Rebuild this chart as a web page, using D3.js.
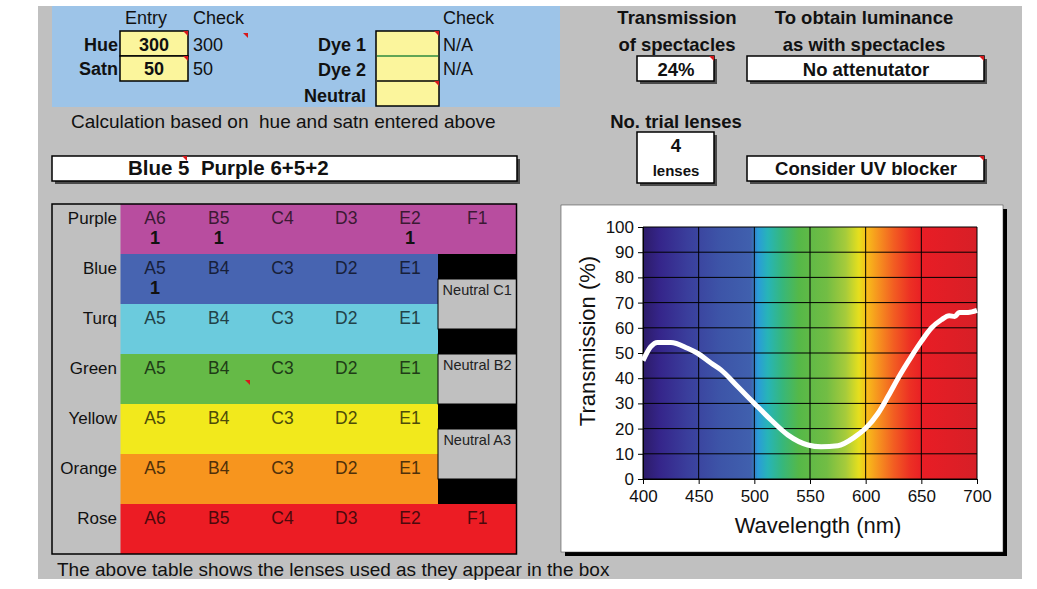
<!DOCTYPE html>
<html>
<head>
<meta charset="utf-8">
<script src="https://cdn.jsdelivr.net/npm/d3@7"></script>
<style>
body { margin: 0; background: #fff; }
svg { display: block; font-family: "Liberation Sans", Arial, sans-serif; }
svg text { white-space: pre; }
</style>
</head>
<body>
<div id="chart"></div>
<script>
// lens table
const rowNames = ['Purple', 'Blue', 'Turq', 'Green', 'Yellow', 'Orange', 'Rose']
const rowColors = ['#b84d9f', '#4764b1', '#6bcbdd', '#65ba47', '#f2e91c', '#f7951e', '#ec1c24']
const lensCodes = [
    ['A6', 'B5', 'C4', 'D3', 'E2', 'F1'],
    ['A5', 'B4', 'C3', 'D2', 'E1'],
    ['A5', 'B4', 'C3', 'D2', 'E1'],
    ['A5', 'B4', 'C3', 'D2', 'E1'],
    ['A5', 'B4', 'C3', 'D2', 'E1'],
    ['A5', 'B4', 'C3', 'D2', 'E1'],
    ['A6', 'B5', 'C4', 'D3', 'E2', 'F1']
]
const lensCounts = [
    [1, 1, null, null, 1],
    [1, null, null, null, null],
    [], [], [], [], []
]
// neutral column, in half rows: [first half row, label]
const neutralCells = [[3, 'Neutral C1'], [6, 'Neutral B2'], [9, 'Neutral A3']]
const blackCells = [2, 5, 8, 11]

// spectacles transmission curve
const wavelengths = [400, 407, 413, 425, 440, 449, 461, 470, 485, 500, 515, 530, 548, 560, 575, 590, 600, 611, 620, 630, 641, 650, 659, 668, 675, 680, 684, 692, 700]
const transmission = [47, 52.5, 54.2, 54.2, 51.9, 49.9, 46, 43.3, 36.7, 30, 23.4, 17.5, 13.5, 12.8, 13.2, 16.6, 20.1, 26, 32.7, 40.7, 48.6, 54.6, 59.9, 63.2, 64.8, 64.5, 66.1, 66.1, 66.9]
const xTicks = [400, 450, 500, 550, 600, 650, 700]
const yTicks = [0, 10, 20, 30, 40, 50, 60, 70, 80, 90, 100]

const spectrumWl = [400, 415, 440, 470, 497, 503, 512, 525, 540, 565, 582, 594, 601, 612, 625, 640, 652, 700]
const spectrumColor = ['#2c1b68', '#35258a', '#3a3e9c', '#3d55a8', '#4060ae', '#2a9bd8', '#27b4b8', '#36b77c', '#55b848', '#72bd44', '#a6cb3b', '#e6df1d', '#f8bc1a', '#f6901f', '#f25e22', '#ec3024', '#e81d25', '#d71f27']

const W = 1037, H = 589
const font = 'Liberation Sans, Arial, sans-serif'

const svg = d3.select('#chart').append('svg')
    .attr('width', W)
    .attr('height', H)

svg.append('rect').attr('x', 38).attr('y', 6).attr('width', 984).attr('height', 573).attr('fill', '#c0c0c0')
svg.append('rect').attr('x', 52).attr('y', 6).attr('width', 508).attr('height', 101).attr('fill', '#9dc4e8')

function txt(x, y, s, size, opts) {
    opts = opts || {}
    return svg.append('text')
        .attr('x', x).attr('y', y)
        .attr('font-size', size)
        .attr('font-weight', opts.bold ? 'bold' : 'normal')
        .attr('text-anchor', opts.anchor || 'start')
        .attr('fill', opts.fill || '#111')
        .text(s)
}

function marker(x, y) {
    svg.append('path')
        .attr('d', `M${x - 5},${y}L${x},${y}L${x},${y + 5}Z`)
        .attr('fill', '#d7191c')
}

function box(x, y, w, h, fill, shadow) {
    if (shadow) {
        svg.append('rect').attr('x', x + 3).attr('y', y + 3).attr('width', w).attr('height', h).attr('fill', '#4a4a4a')
    }
    svg.append('rect').attr('x', x).attr('y', y).attr('width', w).attr('height', h)
        .attr('fill', fill).attr('stroke', '#000').attr('stroke-width', 1.5)
}

// entry block
txt(146, 24, 'Entry', 18, { anchor: 'middle' })
txt(193, 24, 'Check', 18)
txt(443, 24, 'Check', 18)
txt(118, 51, 'Hue', 18, { bold: true, anchor: 'end' })
txt(118, 75, 'Satn', 18, { bold: true, anchor: 'end' })
box(120, 31, 68, 25, '#fbf59c')
box(120, 56, 68, 25, '#fbf59c')
marker(188, 31); marker(188, 56); marker(248, 33)
txt(154, 51, '300', 18, { bold: true, anchor: 'middle' })
txt(154, 75, '50', 18, { bold: true, anchor: 'middle' })
txt(193, 51, '300', 18)
txt(193, 75, '50', 18)

txt(366, 51, 'Dye 1', 18, { bold: true, anchor: 'end' })
txt(366, 76, 'Dye 2', 18, { bold: true, anchor: 'end' })
txt(366, 102, 'Neutral', 18, { bold: true, anchor: 'end' })
box(376, 31, 63, 75, '#fbf59c')
svg.append('line').attr('x1', 377).attr('x2', 438).attr('y1', 56).attr('y2', 56).attr('stroke', '#2e8a3e').attr('stroke-width', 1.5)
svg.append('line').attr('x1', 377).attr('x2', 438).attr('y1', 81).attr('y2', 81).attr('stroke', '#000').attr('stroke-width', 1.5)
marker(439, 31); marker(439, 81)
txt(443, 51, 'N/A', 18)
txt(443, 75, 'N/A', 18)

txt(71, 128, 'Calculation based on  hue and satn entered above', 19)
box(52, 156, 465, 25, '#fff', true)
marker(187, 156)
txt(128, 175, 'Blue 5  Purple 6+5+2', 20.5, { bold: true })

// right side info boxes
txt(677, 24, 'Transmission', 18.5, { bold: true, anchor: 'middle' })
txt(677, 51, 'of spectacles', 18.5, { bold: true, anchor: 'middle' })
txt(864, 24, 'To obtain luminance', 18.5, { bold: true, anchor: 'middle' })
txt(864, 51, 'as with spectacles', 18.5, { bold: true, anchor: 'middle' })
box(637, 56, 77, 25, '#fff', true)
box(747, 56, 237, 25, '#fff', true)
marker(714, 56); marker(984, 56)
txt(676, 76, '24%', 18.5, { bold: true, anchor: 'middle' })
txt(866, 76, 'No attenutator', 18.5, { bold: true, anchor: 'middle' })
txt(676, 128, 'No. trial lenses', 18.5, { bold: true, anchor: 'middle' })
box(637, 132, 77, 51, '#fff', true)
txt(676, 152, '4', 18.5, { bold: true, anchor: 'middle' })
txt(676, 176, 'lenses', 15, { bold: true, anchor: 'middle' })
box(747, 156, 237, 25, '#fff', true)
marker(984, 156)
txt(866, 175, 'Consider UV blocker', 18.5, { bold: true, anchor: 'middle' })

// lens table
const tX0 = 52, tLab = 120.5, tF = 438, tX1 = 516.5
const rowY = d3.scaleBand().domain(rowNames).range([204, 554])
const halfY = d3.scaleBand().domain(d3.range(14)).range([204, 554])
const colX = d3.scalePoint().domain(d3.range(5)).range([155, 410])
const fX = (tF + tX1) / 2

const table = svg.append('g')
table.selectAll('rect.row')
    .data(rowNames)
    .join('rect')
    .attr('class', 'row')
    .attr('x', tLab)
    .attr('y', d => rowY(d))
    .attr('width', (d, i) => lensCodes[i].length === 6 ? tX1 - tLab : tF - tLab)
    .attr('height', rowY.bandwidth())
    .attr('fill', (d, i) => rowColors[i])

table.selectAll('rect.blk')
    .data(blackCells)
    .join('rect')
    .attr('class', 'blk')
    .attr('x', tF).attr('y', d => halfY(d))
    .attr('width', tX1 - tF).attr('height', halfY.bandwidth())
    .attr('fill', '#000')

table.selectAll('rect.neu')
    .data(neutralCells)
    .join('rect')
    .attr('class', 'neu')
    .attr('x', tF).attr('y', d => halfY(d[0]))
    .attr('width', tX1 - tF).attr('height', halfY.bandwidth() * 2)
    .attr('fill', '#c0c0c0').attr('stroke', '#000').attr('stroke-width', 1)

table.selectAll('text.neu')
    .data(neutralCells)
    .join('text')
    .attr('class', 'neu')
    .attr('x', fX).attr('y', d => halfY(d[0]) + halfY.bandwidth() / 2 + 3)
    .attr('text-anchor', 'middle')
    .attr('font-size', 14.5)
    .attr('fill', '#222')
    .text(d => d[1])

table.selectAll('text.lab')
    .data(rowNames)
    .join('text')
    .attr('class', 'lab')
    .attr('x', 117).attr('y', d => rowY(d) + 20)
    .attr('text-anchor', 'end')
    .attr('font-size', 17)
    .attr('fill', '#111')
    .text(d => d)

rowNames.forEach((name, i) => {
    const tcol = d3.interpolateRgb(rowColors[i], '#000')(0.68)
    table.selectAll('text.c' + i)
        .data(lensCodes[i])
        .join('text')
        .attr('class', 'c' + i)
        .attr('x', (d, j) => j < 5 ? colX(j) : fX)
        .attr('y', rowY(name) + 20)
        .attr('text-anchor', 'middle')
        .attr('font-size', 17.5)
        .attr('fill', tcol)
        .text(d => d)
    table.selectAll('text.n' + i)
        .data(lensCounts[i].map((v, j) => [v, j]).filter(d => d[0] != null))
        .join('text')
        .attr('class', 'n' + i)
        .attr('x', d => colX(d[1]))
        .attr('y', rowY(name) + 40)
        .attr('text-anchor', 'middle')
        .attr('font-size', 18)
        .attr('font-weight', 'bold')
        .attr('fill', '#111')
        .text(d => d[0])
})

table.append('rect')
    .attr('x', tX0).attr('y', 204).attr('width', tX1 - tX0).attr('height', 350)
    .attr('fill', 'none').attr('stroke', '#000').attr('stroke-width', 1.5)
marker(250, 380)

txt(57, 576, 'The above table shows the lenses used as they appear in the box', 19)

// transmission chart
svg.append('rect').attr('x', 565).attr('y', 209).attr('width', 442).attr('height', 347).attr('fill', '#000')
svg.append('rect').attr('x', 561).attr('y', 205).attr('width', 442).attr('height', 347)
    .attr('fill', '#fff').attr('stroke', '#333').attr('stroke-width', 0.5)

const x = d3.scaleLinear().domain([400, 700]).range([643, 977])
const y = d3.scaleLinear().domain([0, 100]).range([479, 227])

const grad = svg.append('defs').append('linearGradient')
    .attr('id', 'spectrum')
    .attr('gradientUnits', 'userSpaceOnUse')
    .attr('x1', x(400)).attr('x2', x(700)).attr('y1', 0).attr('y2', 0)
grad.selectAll('stop')
    .data(spectrumWl)
    .join('stop')
    .attr('offset', d => (d - 400) / 300)
    .attr('stop-color', (d, i) => spectrumColor[i])

svg.append('rect')
    .attr('x', x(400)).attr('y', y(100))
    .attr('width', x(700) - x(400)).attr('height', y(0) - y(100))
    .attr('fill', 'url(#spectrum)')

const grid = svg.append('g').attr('stroke', '#000').attr('stroke-width', 1)
grid.selectAll('line.v').data(xTicks).join('line').attr('class', 'v')
    .attr('x1', d => x(d)).attr('x2', d => x(d)).attr('y1', y(100)).attr('y2', y(0))
grid.selectAll('line.h').data(yTicks).join('line').attr('class', 'h')
    .attr('x1', x(400)).attr('x2', x(700)).attr('y1', d => y(d)).attr('y2', d => y(d))

const xAxis = svg.append('g')
    .attr('transform', `translate(0,${y(0)})`)
    .call(d3.axisBottom(x).tickValues(xTicks).tickSize(5).tickPadding(6))
const yAxis = svg.append('g')
    .attr('transform', `translate(${x(400)},0)`)
    .call(d3.axisLeft(y).tickValues(yTicks).tickSize(5).tickPadding(4))
;[xAxis, yAxis].forEach(a => {
    a.selectAll('text').attr('font-size', 17).attr('font-family', font).attr('fill', '#111')
    a.select('.domain').attr('stroke', '#000')
})

svg.append('path')
    .datum(wavelengths.map((w, i) => [w, transmission[i]]))
    .attr('fill', 'none')
    .attr('stroke', '#fff')
    .attr('stroke-width', 5)
    .attr('stroke-linejoin', 'round')
    .attr('d', d3.line().x(d => x(d[0])).y(d => y(d[1])).curve(d3.curveMonotoneX))

svg.append('text')
    .attr('x', 818).attr('y', 533)
    .attr('text-anchor', 'middle')
    .attr('font-size', 22)
    .attr('fill', '#111')
    .text('Wavelength (nm)')
svg.append('text')
    .attr('transform', 'translate(595,341) rotate(-90)')
    .attr('text-anchor', 'middle')
    .attr('font-size', 22)
    .attr('fill', '#111')
    .text('Transmission (%)')
</script>
</body>
</html>
